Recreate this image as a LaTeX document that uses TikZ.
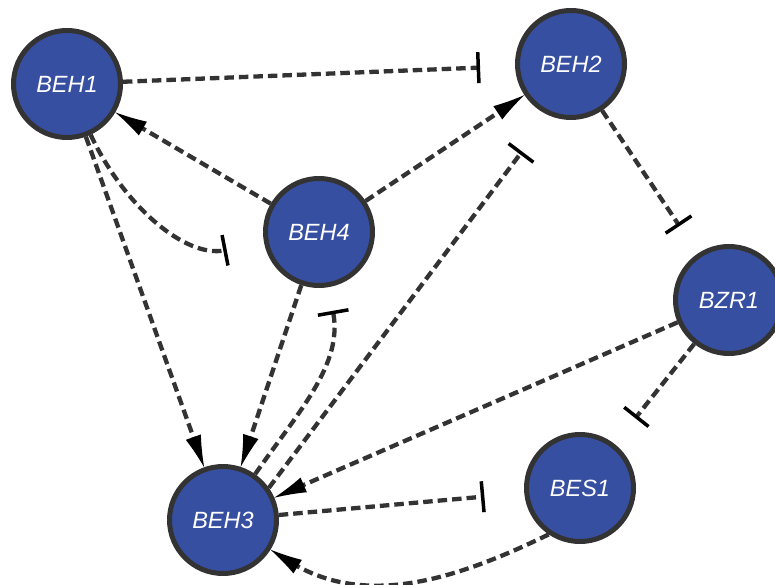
\documentclass[tikz,border=0pt]{standalone}
\usepackage{fontspec}
\newfontfamily\labelfont{Liberation Sans}
\usetikzlibrary{arrows.meta}

\definecolor{nodeblue}{RGB}{54,79,161}
\definecolor{edgegray}{RGB}{51,51,51}

% slim triangular head with slightly concave sides
\pgfdeclarearrow{
  name = Spike,
  parameters = {\the\pgfarrowlength,\the\pgfarrowwidth},
  setup code = {
    \pgfarrowssettipend{0pt}
    \pgfarrowssetbackend{-\pgfarrowlength}
    \pgfarrowssetlineend{-0.7\pgfarrowlength}
    \pgfarrowssavethe\pgfarrowlength
    \pgfarrowssavethe\pgfarrowwidth
  },
  drawing code = {
    \pgfpathmoveto{\pgfpoint{0pt}{0pt}}
    \pgfpathquadraticcurveto{\pgfpoint{-0.55\pgfarrowlength}{0.2\pgfarrowwidth}}{\pgfpoint{-\pgfarrowlength}{0.5\pgfarrowwidth}}
    \pgfpathlineto{\pgfpoint{-\pgfarrowlength}{-0.5\pgfarrowwidth}}
    \pgfpathquadraticcurveto{\pgfpoint{-0.55\pgfarrowlength}{-0.2\pgfarrowwidth}}{\pgfpoint{0pt}{0pt}}
    \pgfpathclose
    \pgfusepathqfill
  },
  defaults = {length = 32pt 0 0, width = 16pt 0 0}
}

\begin{document}
\begin{tikzpicture}[x=1pt,y=1pt,
  gene/.style={circle, minimum size=107pt, inner sep=0pt, fill=nodeblue,
    draw=edgegray, line width=5pt, text=white,
    font=\labelfont\itshape\fontsize{23.5}{23.5}\selectfont},
  link/.style={draw=edgegray, line width=4.3pt, dash pattern=on 9.5pt off 5pt},
  activate/.style={link, -{Spike[length=32pt 0 0,width=16pt 0 0,color=black]}},
  inhibit/.style={link, -{Bar[width=31pt 0 0,line width=3.5pt 0,color=black]}},
]
\useasboundingbox (0,0) rectangle (775,584);
\clip (0,0) rectangle (775,584);

% genes
\node[gene] (BEH1) at (67,500) {BEH1};
\node[gene] (BEH2) at (571,520) {BEH2};
\node[gene] (BEH4) at (319,352) {BEH4};
\node[gene] (BZR1) at (729,284) {BZR1};
\node[gene] (BES1) at (580,96) {BES1};
\node[gene] (BEH3) at (223,64) {BEH3};

% activations
\draw[activate] (BEH4) -- (BEH1);
\draw[activate] (BEH4) -- (BEH2);
\draw[activate] (BEH1) -- (BEH3);
\draw[activate] (BEH4) -- (BEH3);
\draw[activate] (BZR1) -- (BEH3);
\draw[activate] (BES1.-124) to[out=-154, in=-32] (BEH3);

% inhibitions
\draw[inhibit, shorten >=35pt] (BEH1) -- (BEH2);
\draw[inhibit, shorten >=38pt] (BEH1) to[out=-65, in=191] (BEH4);
\draw[inhibit, shorten >=24pt] (BEH3) to[out=55, in=-80] (BEH4);
\draw[inhibit, shorten >=45pt] (BEH3.35) -- (BEH2.247);
\draw[inhibit, shorten >=33pt] (BEH2) -- (BZR1);
\draw[inhibit, shorten >=33pt] (BZR1) -- (BES1);
\draw[inhibit, shorten >=40pt] (BEH3) -- (BES1);
\end{tikzpicture}
\end{document}
